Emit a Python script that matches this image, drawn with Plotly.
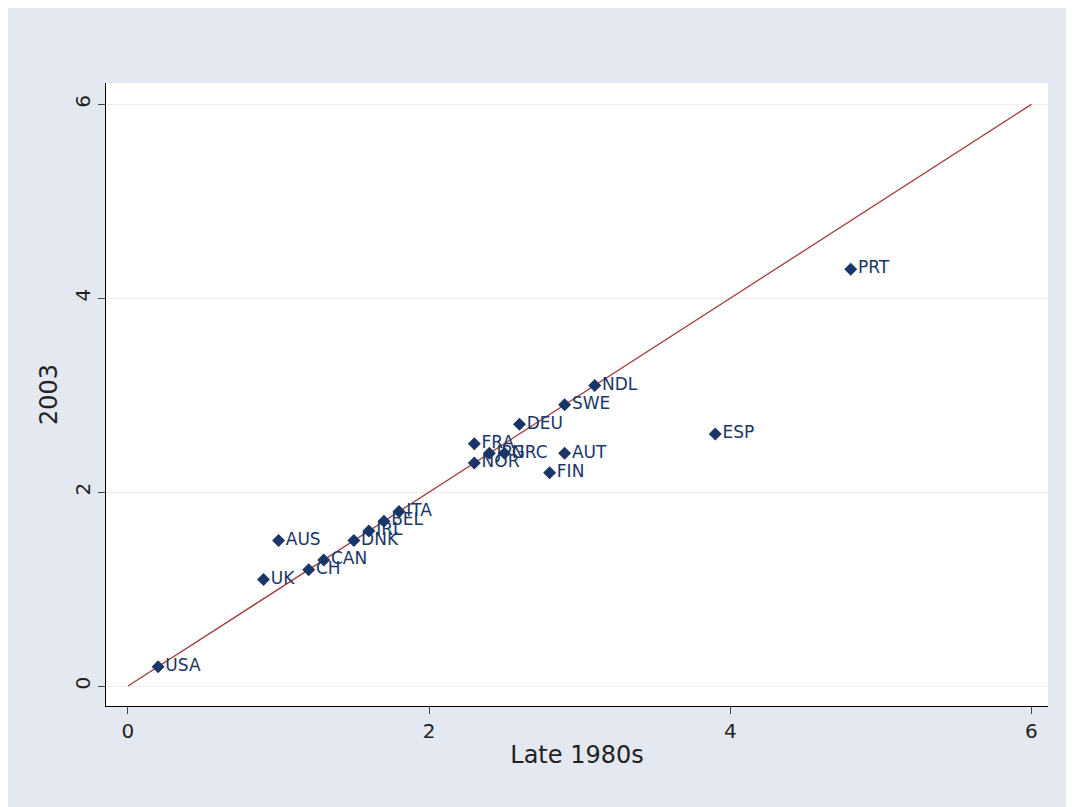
import plotly.graph_objects as go

countries = ["USA", "UK", "CH", "CAN", "AUS", "DNK", "IRL", "BEL", "ITA", "FRA", "NOR",
             "JPN", "GRC", "DEU", "AUT", "FIN", "SWE", "NDL", "ESP", "PRT"]
late1980s = [0.2, 0.9, 1.2, 1.3, 1.0, 1.5, 1.6, 1.7, 1.8, 2.3, 2.3,
             2.4, 2.5, 2.6, 2.9, 2.8, 2.9, 3.1, 3.9, 4.8]
y2003 = [0.2, 1.1, 1.2, 1.3, 1.5, 1.5, 1.6, 1.7, 1.8, 2.5, 2.3,
         2.4, 2.4, 2.7, 2.4, 2.2, 2.9, 3.1, 2.6, 4.3]
diag = [0, 6]

navy = "#1a3668"
fig = go.Figure()
fig.add_trace(go.Scatter(x=diag, y=diag, mode="lines",
                         line=dict(color="#a03c3c", width=1.3), hoverinfo="skip"))
fig.add_trace(go.Scatter(x=late1980s, y=y2003, mode="markers+text", text=countries,
                         textposition="middle right",
                         textfont=dict(color=navy, size=17, family="DejaVu Sans"),
                         marker=dict(symbol="diamond", size=10, color=navy)))
fig.update_layout(
    width=1074, height=807, showlegend=False,
    paper_bgcolor="#e4e8f1", plot_bgcolor="white",
    margin=dict(l=98, r=34, t=75, b=109),
    font=dict(family="DejaVu Sans", color="#222", size=20),
)
fig.update_xaxes(range=[-0.146, 6.11], tickvals=[0, 2, 4, 6], showgrid=False, zeroline=False,
                 showline=True, linecolor="black", ticks="outside", ticklen=7,
                 title=dict(text="Late 1980s", standoff=4))
fig.update_yaxes(range=[-0.206, 6.22], tickvals=[0, 2, 4, 6], gridcolor="#eceef3", zeroline=False,
                 showline=True, linecolor="black", ticks="outside", ticklen=7, tickangle=-90,
                 title=dict(text="2003", standoff=6))
fig.write_html("out.html")
